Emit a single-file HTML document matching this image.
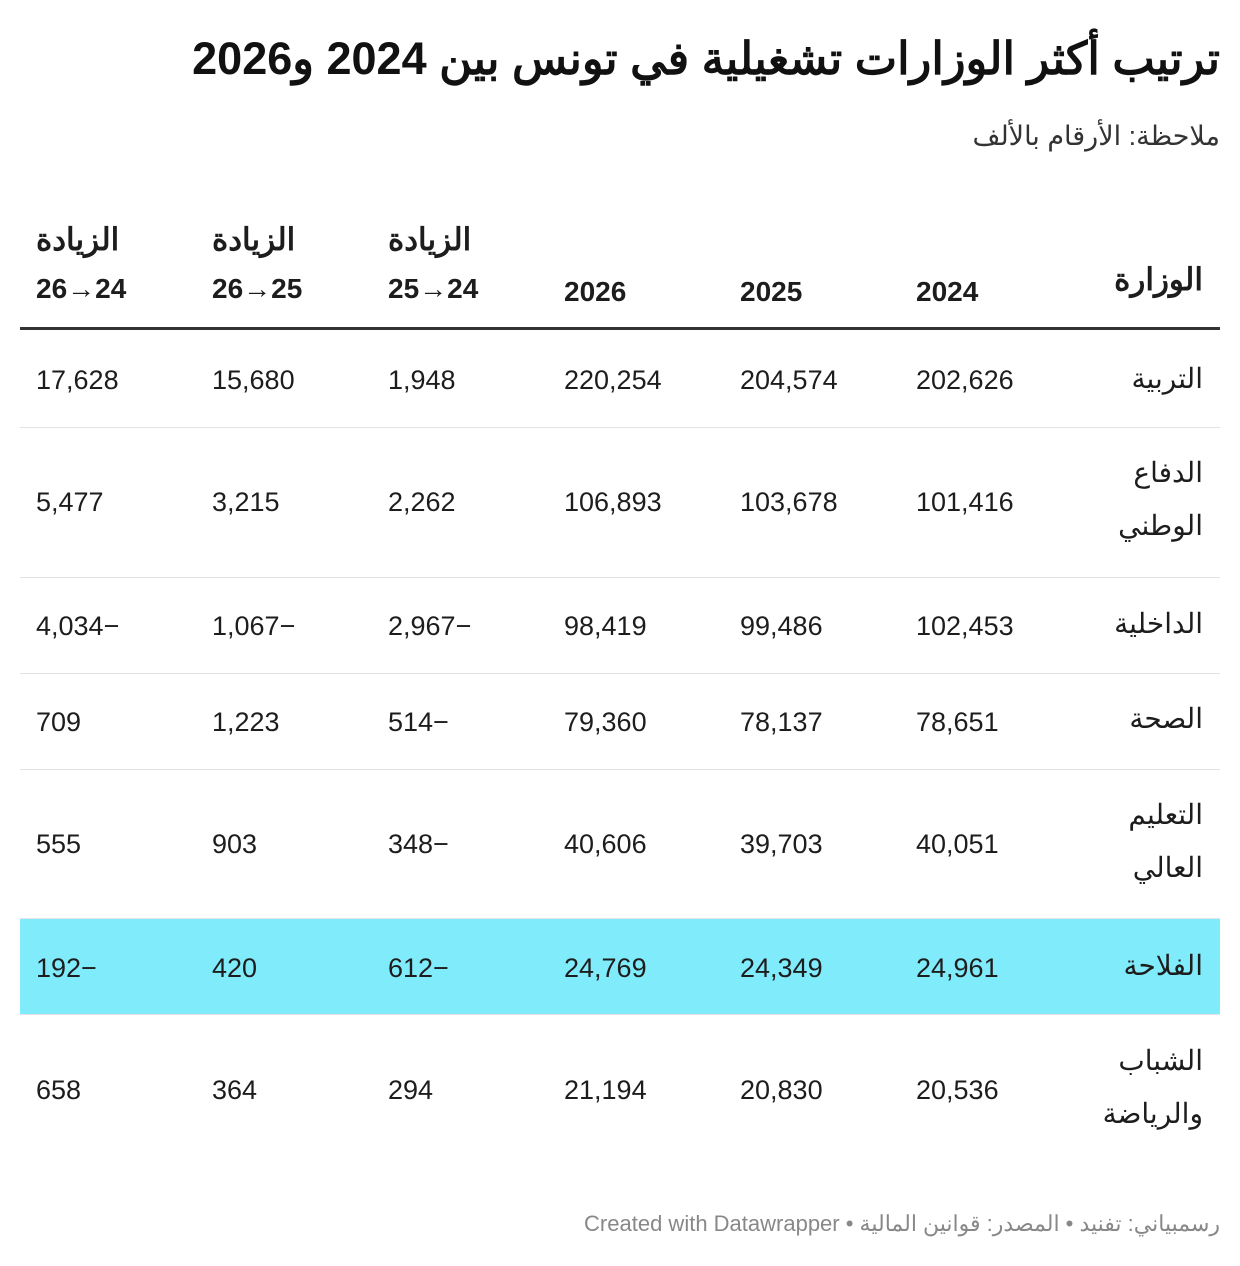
<!DOCTYPE html>
<html><head><meta charset="utf-8"><style>
body{margin:0;width:1240px;height:1266px;background:#fff;position:relative;font-family:"Liberation Sans","Noto Sans CJK SC",sans-serif;color:#1d1d1d;overflow:hidden}
.a{position:absolute;white-space:nowrap}
.r{direction:rtl;text-align:right}
.n{font-size:27px;direction:ltr}
.t{font-size:28px;direction:rtl;text-align:right;line-height:53px}
.h{font-weight:bold;font-size:28px}
.ha{font-weight:bold;font-size:31px;direction:rtl}
.line{position:absolute;left:20px;width:1200px;height:1px;background:#e3e3e3}
</style></head><body>
<div class="a r" style="right:20px;top:32px;font-size:45px;font-weight:bold;color:#111">ترتيب أكثر الوزارات تشغيلية في تونس بين 2024 و2026</div>
<div class="a r" style="right:20px;top:121px;font-size:27px;color:#333">ملاحظة: الأرقام بالألف</div>

<div class="a ha" style="right:37px;top:262px">الوزارة</div>
<div class="a h" style="left:916px;top:276px">2024</div>
<div class="a h" style="left:740px;top:276px">2025</div>
<div class="a h" style="left:564px;top:276px">2026</div>
<div class="a ha" style="left:388px;top:222px">الزيادة</div>
<div class="a h" style="left:388px;top:273px">25→24</div>
<div class="a ha" style="left:212px;top:222px">الزيادة</div>
<div class="a h" style="left:212px;top:273px">26→25</div>
<div class="a ha" style="left:36px;top:222px">الزيادة</div>
<div class="a h" style="left:36px;top:273px">26→24</div>
<div style="position:absolute;left:20px;width:1200px;top:327px;height:3px;background:#333"></div>

<div style="position:absolute;left:20px;width:1200px;top:918px;height:96px;background:#80ebfb"></div>
<div class="line" style="top:427px"></div>
<div class="line" style="top:577px"></div>
<div class="line" style="top:673px"></div>
<div class="line" style="top:769px"></div>
<div class="line" style="top:918px"></div>
<div class="line" style="top:1014px"></div>

<div class="a t" style="right:37px;top:352px">التربية</div>
<div class="a n" style="left:916px;top:365px">202,626</div><div class="a n" style="left:740px;top:365px">204,574</div><div class="a n" style="left:564px;top:365px">220,254</div><div class="a n" style="left:388px;top:365px">1,948</div><div class="a n" style="left:212px;top:365px">15,680</div><div class="a n" style="left:36px;top:365px">17,628</div>

<div class="a t" style="right:37px;top:446px">الدفاع<br>الوطني</div>
<div class="a n" style="left:916px;top:487px">101,416</div><div class="a n" style="left:740px;top:487px">103,678</div><div class="a n" style="left:564px;top:487px">106,893</div><div class="a n" style="left:388px;top:487px">2,262</div><div class="a n" style="left:212px;top:487px">3,215</div><div class="a n" style="left:36px;top:487px">5,477</div>

<div class="a t" style="right:37px;top:597px">الداخلية</div>
<div class="a n" style="left:916px;top:611px">102,453</div><div class="a n" style="left:740px;top:611px">99,486</div><div class="a n" style="left:564px;top:611px">98,419</div><div class="a n" style="left:388px;top:611px">2,967−</div><div class="a n" style="left:212px;top:611px">1,067−</div><div class="a n" style="left:36px;top:611px">4,034−</div>

<div class="a t" style="right:37px;top:692px">الصحة</div>
<div class="a n" style="left:916px;top:707px">78,651</div><div class="a n" style="left:740px;top:707px">78,137</div><div class="a n" style="left:564px;top:707px">79,360</div><div class="a n" style="left:388px;top:707px">514−</div><div class="a n" style="left:212px;top:707px">1,223</div><div class="a n" style="left:36px;top:707px">709</div>

<div class="a t" style="right:37px;top:788px">التعليم<br>العالي</div>
<div class="a n" style="left:916px;top:829px">40,051</div><div class="a n" style="left:740px;top:829px">39,703</div><div class="a n" style="left:564px;top:829px">40,606</div><div class="a n" style="left:388px;top:829px">348−</div><div class="a n" style="left:212px;top:829px">903</div><div class="a n" style="left:36px;top:829px">555</div>

<div class="a t" style="right:37px;top:939px">الفلاحة</div>
<div class="a n" style="left:916px;top:953px">24,961</div><div class="a n" style="left:740px;top:953px">24,349</div><div class="a n" style="left:564px;top:953px">24,769</div><div class="a n" style="left:388px;top:953px">612−</div><div class="a n" style="left:212px;top:953px">420</div><div class="a n" style="left:36px;top:953px">192−</div>

<div class="a t" style="right:37px;top:1034px">الشباب<br>والرياضة</div>
<div class="a n" style="left:916px;top:1075px">20,536</div><div class="a n" style="left:740px;top:1075px">20,830</div><div class="a n" style="left:564px;top:1075px">21,194</div><div class="a n" style="left:388px;top:1075px">294</div><div class="a n" style="left:212px;top:1075px">364</div><div class="a n" style="left:36px;top:1075px">658</div>

<div class="a r" style="right:20px;top:1211px;font-size:22px;color:#888">رسمبياني: تفنيد • المصدر: قوانين المالية • Created with Datawrapper</div>
</body></html>
